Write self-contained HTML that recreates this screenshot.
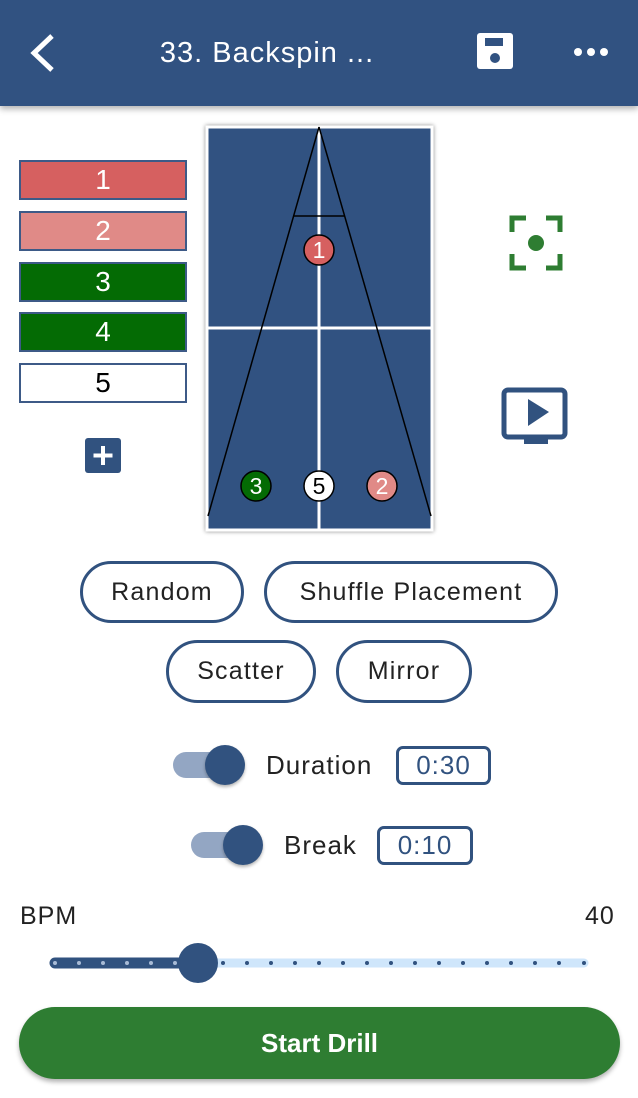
<!DOCTYPE html>
<html><head><meta charset="utf-8"><style>
*{margin:0;padding:0;box-sizing:border-box}
body{width:638px;height:1098px;background:#fff;position:relative;overflow:hidden;font-family:"Liberation Sans",sans-serif}
.a{position:absolute}
.hdr{left:0;top:0;width:638px;height:106px;background:#315281;box-shadow:0 3px 6px rgba(0,0,0,.3)}
.box{left:19px;width:168px;height:40px;border:2px solid #3d5a87;color:#fff;font-size:28px;text-align:center;line-height:36px}
.pill{border:3px solid #31527f;border-radius:32px;font-size:25px;letter-spacing:1.2px;color:#222;text-align:center;white-space:nowrap}
.tb{border:3px solid #31527f;border-radius:7px;color:#31527f;font-size:26px;letter-spacing:1px;text-align:center}
.trk{height:26px;border-radius:13px;background:#93a6c3}
.knob{width:40px;height:40px;border-radius:50%;background:#31527f;box-shadow:0 2px 3px rgba(0,0,0,.3)}
.lbl{font-size:26px;color:#222;letter-spacing:1px}
</style></head><body>
<div class="a hdr"></div>
<svg class="a" style="left:0;top:0" width="638" height="106">
<polyline points="52,36 34,53 52,70" fill="none" stroke="#fff" stroke-width="5"/>
<text x="267" y="62" fill="#fff" font-size="29" letter-spacing="1" text-anchor="middle" font-family="Liberation Sans">33. Backspin ...</text>
<rect x="477" y="33" width="36" height="36" rx="3" fill="#fff"/>
<rect x="485" y="38" width="18" height="8" fill="#315281"/>
<circle cx="495" cy="58" r="5" fill="#315281"/>
<circle cx="578" cy="52" r="4" fill="#fff"/><circle cx="591" cy="52" r="4" fill="#fff"/><circle cx="604" cy="52" r="4" fill="#fff"/>
</svg>
<div class="a box" style="top:160px;background:#d66060">1</div>
<div class="a box" style="top:211px;background:#e08a87">2</div>
<div class="a box" style="top:262px;background:#046b04">3</div>
<div class="a box" style="top:312px;background:#046b04">4</div>
<div class="a box" style="top:363px;background:#fff;color:#000">5</div>
<svg class="a" style="left:0;top:100px" width="638" height="440">
<rect x="85" y="338" width="36" height="35" rx="3" fill="#31527f"/>
<path d="M103 346v19M93.5 355.5h19" stroke="#fff" stroke-width="4"/>
<rect x="207" y="27" width="225" height="403" fill="#315281" stroke="#fff" stroke-width="3" style="filter:drop-shadow(0 0 2px #888)"/>
<line x1="208" y1="228" x2="431" y2="228" stroke="#fff" stroke-width="3"/>
<line x1="319" y1="28" x2="319" y2="429" stroke="#fff" stroke-width="3"/>
<line x1="319" y1="27" x2="208" y2="416" stroke="#000" stroke-width="1.5"/>
<line x1="319" y1="27" x2="431" y2="416" stroke="#000" stroke-width="1.5"/>
<line x1="294" y1="116" x2="345" y2="116" stroke="#000" stroke-width="1.5"/>
<g font-family="Liberation Sans" font-size="23" text-anchor="middle">
<circle cx="319" cy="150" r="15" fill="#d66060" stroke="#000" stroke-width="1.5"/><text x="319" y="158" fill="#fff">1</text>
<circle cx="256" cy="386" r="15" fill="#046b04" stroke="#000" stroke-width="1.5"/><text x="256" y="394" fill="#fff">3</text>
<circle cx="319" cy="386" r="15" fill="#fff" stroke="#000" stroke-width="1.5"/><text x="319" y="394" fill="#000">5</text>
<circle cx="382" cy="386" r="15" fill="#e08a87" stroke="#000" stroke-width="1.5"/><text x="382" y="394" fill="#fff">2</text>
</g>
<g fill="none" stroke="#2e7d32" stroke-width="5">
<path d="M512 132v-14h14M546 118h14v14M560 154v14h-14M526 168h-14v-14"/>
</g>
<circle cx="536" cy="143" r="8" fill="#2e7d32"/>
<rect x="504" y="290" width="61" height="47" rx="4" fill="none" stroke="#31527f" stroke-width="5"/>
<rect x="524" y="337" width="24" height="7" fill="#31527f"/>
<polygon points="528,299 528,326 549,312" fill="#31527f"/>
</svg>
<div class="a pill" style="left:80px;top:561px;width:164px;height:62px;line-height:56px">Random</div>
<div class="a pill" style="left:264px;top:561px;width:294px;height:62px;line-height:56px">Shuffle Placement</div>
<div class="a pill" style="left:166px;top:640px;width:150px;height:63px;line-height:57px">Scatter</div>
<div class="a pill" style="left:336px;top:640px;width:136px;height:63px;line-height:57px">Mirror</div>
<div class="a trk" style="left:173px;top:752px;width:60px"></div>
<div class="a knob" style="left:205px;top:745px"></div>
<div class="a lbl" style="left:266px;top:750px">Duration</div>
<div class="a tb" style="left:396px;top:746px;width:95px;height:39px;line-height:33px">0:30</div>
<div class="a trk" style="left:191px;top:832px;width:60px"></div>
<div class="a knob" style="left:223px;top:825px"></div>
<div class="a lbl" style="left:284px;top:830px">Break</div>
<div class="a tb" style="left:377px;top:826px;width:96px;height:39px;line-height:33px">0:10</div>
<div class="a lbl" style="left:20px;top:902px;font-size:25px">BPM</div>
<div class="a lbl" style="left:585px;top:902px;font-size:25px">40</div>
<svg class="a" style="left:0;top:940px" width="638" height="50">
<line x1="55" y1="23" x2="584" y2="23" stroke="#cfe6fb" stroke-width="9" stroke-linecap="round"/>
<line x1="55" y1="23" x2="197" y2="23" stroke="#31527f" stroke-width="11" stroke-linecap="round"/>
<g fill="#31527f">
<circle cx="223" cy="23" r="2"/><circle cx="247" cy="23" r="2"/><circle cx="271" cy="23" r="2"/><circle cx="295" cy="23" r="2"/><circle cx="319" cy="23" r="2"/><circle cx="343" cy="23" r="2"/><circle cx="367" cy="23" r="2"/><circle cx="391" cy="23" r="2"/><circle cx="415" cy="23" r="2"/><circle cx="439" cy="23" r="2"/><circle cx="463" cy="23" r="2"/><circle cx="487" cy="23" r="2"/><circle cx="511" cy="23" r="2"/><circle cx="535" cy="23" r="2"/><circle cx="559" cy="23" r="2"/><circle cx="584" cy="23" r="2"/>
</g>
<g fill="#a9bbd6"><circle cx="55" cy="23" r="2"/><circle cx="79" cy="23" r="2"/><circle cx="103" cy="23" r="2"/><circle cx="127" cy="23" r="2"/><circle cx="151" cy="23" r="2"/><circle cx="175" cy="23" r="2"/></g>
<ellipse cx="198" cy="23" rx="20" ry="20" fill="#31527f"/>
</svg>
<div class="a" style="left:19px;top:1007px;width:601px;height:72px;border-radius:36px;background:#2e7d32;color:#fff;font-weight:bold;font-size:26px;text-align:center;line-height:72px;box-shadow:0 3px 5px rgba(0,0,0,.3)">Start Drill</div>
</body></html>
